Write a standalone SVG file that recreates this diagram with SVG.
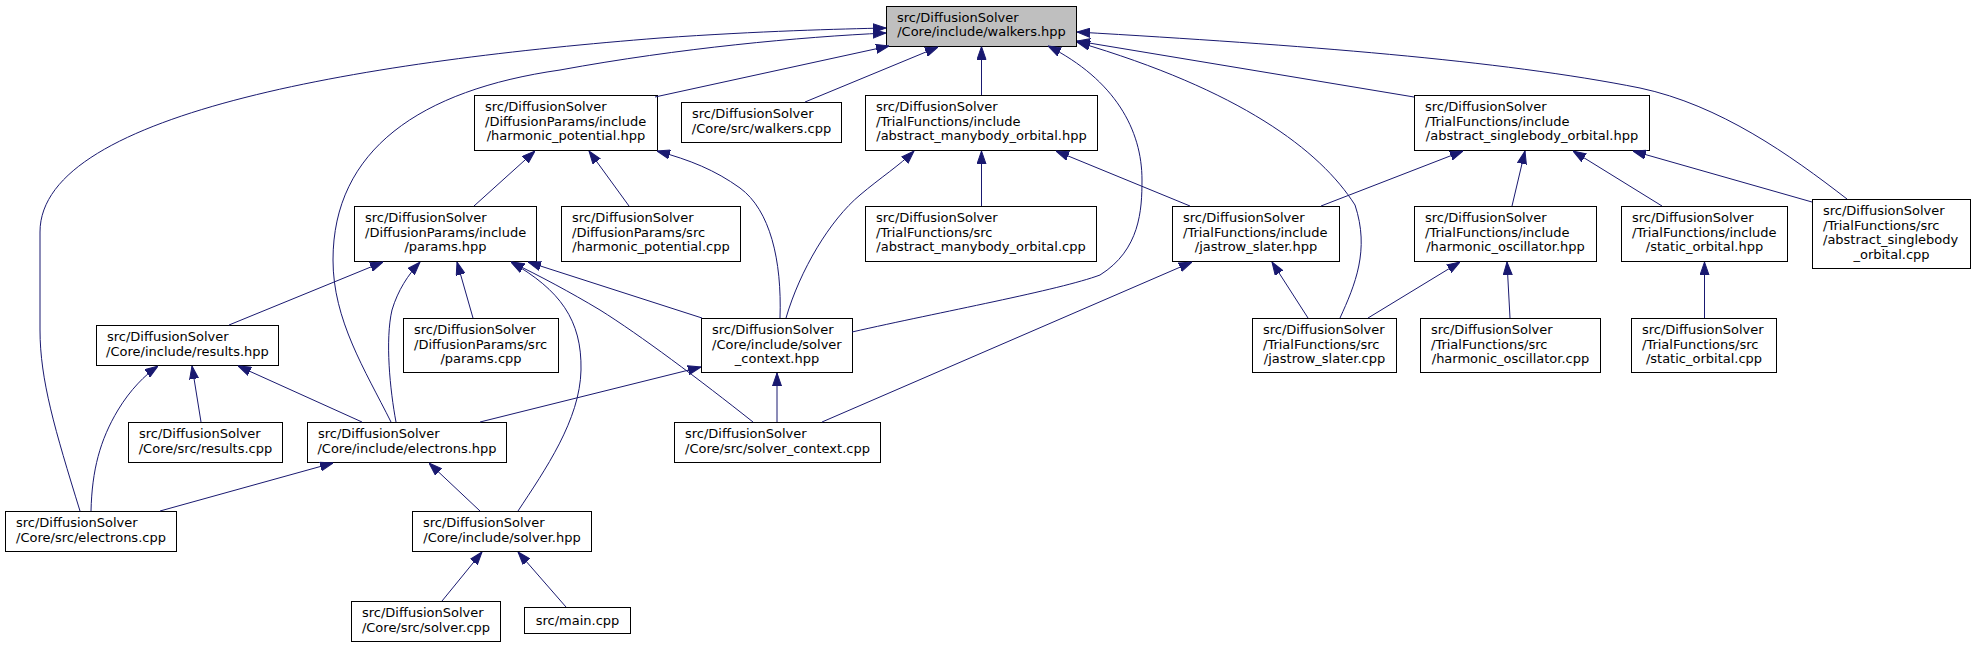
<svg xmlns="http://www.w3.org/2000/svg" width="1975" height="647" viewBox="0 0 1975 647">
<style>
  .node rect { fill: #ffffff; stroke: #000000; stroke-width: 1; }
  .root rect { fill: #bfbfbf; }
  .node text { font-family: "DejaVu Sans", "Liberation Sans", sans-serif; font-size: 13px; fill: #000000; }
  .node text.c { text-anchor: middle; }
  .edges path { fill: none; stroke: #191970; stroke-width: 1; marker-end: url(#arr); }
</style>
<defs>
  <marker id="arr" markerUnits="userSpaceOnUse" viewBox="0 0 13 10" refX="13" refY="5" markerWidth="13" markerHeight="10" orient="auto">
    <path d="M0,0.5 L13,5 L0,9.5 z" fill="#191970" stroke="#191970" stroke-width="1"/>
  </marker>
</defs>
<rect width="1975" height="647" fill="#ffffff"/>

<g id="walkers_hpp" class="node root"><rect x="886.5" y="6.5" width="190" height="40"/>
<text x="897" y="21.5">src/DiffusionSolver</text><text class="c" x="981.5" y="36.2">/Core/include/walkers.hpp</text></g>

<g id="harmonic_potential_hpp" class="node"><rect x="474.5" y="95.5" width="183" height="55"/>
<text x="485" y="111">src/DiffusionSolver</text><text x="485" y="125.7">/DiffusionParams/include</text><text class="c" x="566" y="140.4">/harmonic_potential.hpp</text></g>

<g id="walkers_cpp" class="node"><rect x="681.5" y="102.5" width="160" height="40"/>
<text x="692" y="117.8">src/DiffusionSolver</text><text class="c" x="761.5" y="132.5">/Core/src/walkers.cpp</text></g>

<g id="abstract_manybody_orbital_hpp" class="node"><rect x="865.5" y="95.5" width="232" height="55"/>
<text x="876" y="111">src/DiffusionSolver</text><text x="876" y="125.7">/TrialFunctions/include</text><text class="c" x="981.5" y="140.4">/abstract_manybody_orbital.hpp</text></g>

<g id="abstract_singlebody_orbital_hpp" class="node"><rect x="1414.5" y="95.5" width="235" height="55"/>
<text x="1425" y="111">src/DiffusionSolver</text><text x="1425" y="125.7">/TrialFunctions/include</text><text class="c" x="1532" y="140.4">/abstract_singlebody_orbital.hpp</text></g>

<g id="params_hpp" class="node"><rect x="354.5" y="206.5" width="182" height="55"/>
<text x="365" y="222">src/DiffusionSolver</text><text x="365" y="236.7">/DiffusionParams/include</text><text class="c" x="445.5" y="251.4">/params.hpp</text></g>

<g id="harmonic_potential_cpp" class="node"><rect x="561.5" y="206.5" width="179" height="55"/>
<text x="572" y="222">src/DiffusionSolver</text><text x="572" y="236.7">/DiffusionParams/src</text><text class="c" x="651" y="251.4">/harmonic_potential.cpp</text></g>

<g id="abstract_manybody_orbital_cpp" class="node"><rect x="865.5" y="206.5" width="231" height="55"/>
<text x="876" y="222">src/DiffusionSolver</text><text x="876" y="236.7">/TrialFunctions/src</text><text class="c" x="981" y="251.4">/abstract_manybody_orbital.cpp</text></g>

<g id="jastrow_slater_hpp" class="node"><rect x="1172.5" y="206.5" width="167" height="55"/>
<text x="1183" y="222">src/DiffusionSolver</text><text x="1183" y="236.7">/TrialFunctions/include</text><text class="c" x="1256" y="251.4">/jastrow_slater.hpp</text></g>

<g id="harmonic_oscillator_hpp" class="node"><rect x="1414.5" y="206.5" width="182" height="55"/>
<text x="1425" y="222">src/DiffusionSolver</text><text x="1425" y="236.7">/TrialFunctions/include</text><text class="c" x="1505.5" y="251.4">/harmonic_oscillator.hpp</text></g>

<g id="static_orbital_hpp" class="node"><rect x="1621.5" y="206.5" width="166" height="55"/>
<text x="1632" y="222">src/DiffusionSolver</text><text x="1632" y="236.7">/TrialFunctions/include</text><text class="c" x="1704.5" y="251.4">/static_orbital.hpp</text></g>

<g id="abstract_singlebody_orbital_cpp" class="node"><rect x="1812.5" y="199.5" width="158" height="69"/>
<text x="1823" y="215">src/DiffusionSolver</text><text x="1823" y="229.7">/TrialFunctions/src</text><text x="1823" y="244.4">/abstract_singlebody</text><text class="c" x="1891.5" y="259">_orbital.cpp</text></g>

<g id="results_hpp" class="node"><rect x="96.5" y="325.5" width="182" height="40"/>
<text x="107" y="340.8">src/DiffusionSolver</text><text class="c" x="187.5" y="355.5">/Core/include/results.hpp</text></g>

<g id="params_cpp" class="node"><rect x="403.5" y="318.5" width="155" height="54"/>
<text x="414" y="334">src/DiffusionSolver</text><text x="414" y="348.7">/DiffusionParams/src</text><text class="c" x="481" y="363.4">/params.cpp</text></g>

<g id="solver_context_hpp" class="node"><rect x="701.5" y="318.5" width="151" height="54"/>
<text x="712" y="334">src/DiffusionSolver</text><text x="712" y="348.7">/Core/include/solver</text><text class="c" x="777" y="363.4">_context.hpp</text></g>

<g id="jastrow_slater_cpp" class="node"><rect x="1252.5" y="318.5" width="144" height="54"/>
<text x="1263" y="334">src/DiffusionSolver</text><text x="1263" y="348.7">/TrialFunctions/src</text><text class="c" x="1324.5" y="363.4">/jastrow_slater.cpp</text></g>

<g id="harmonic_oscillator_cpp" class="node"><rect x="1420.5" y="318.5" width="180" height="54"/>
<text x="1431" y="334">src/DiffusionSolver</text><text x="1431" y="348.7">/TrialFunctions/src</text><text class="c" x="1510.5" y="363.4">/harmonic_oscillator.cpp</text></g>

<g id="static_orbital_cpp" class="node"><rect x="1631.5" y="318.5" width="145" height="54"/>
<text x="1642" y="334">src/DiffusionSolver</text><text x="1642" y="348.7">/TrialFunctions/src</text><text class="c" x="1704" y="363.4">/static_orbital.cpp</text></g>

<g id="results_cpp" class="node"><rect x="128.5" y="422.5" width="154" height="40"/>
<text x="139" y="437.8">src/DiffusionSolver</text><text class="c" x="205.5" y="452.5">/Core/src/results.cpp</text></g>

<g id="electrons_hpp" class="node"><rect x="307.5" y="422.5" width="199" height="40"/>
<text x="318" y="437.8">src/DiffusionSolver</text><text class="c" x="407" y="452.5">/Core/include/electrons.hpp</text></g>

<g id="solver_context_cpp" class="node"><rect x="674.5" y="422.5" width="206" height="40"/>
<text x="685" y="437.8">src/DiffusionSolver</text><text class="c" x="777.5" y="452.5">/Core/src/solver_context.cpp</text></g>

<g id="electrons_cpp" class="node"><rect x="5.5" y="511.5" width="171" height="40"/>
<text x="16" y="526.8">src/DiffusionSolver</text><text class="c" x="91" y="541.5">/Core/src/electrons.cpp</text></g>

<g id="solver_hpp" class="node"><rect x="412.5" y="511.5" width="179" height="40"/>
<text x="423" y="526.8">src/DiffusionSolver</text><text class="c" x="502" y="541.5">/Core/include/solver.hpp</text></g>

<g id="solver_cpp" class="node"><rect x="351.5" y="601.5" width="149" height="40"/>
<text x="362" y="616.8">src/DiffusionSolver</text><text class="c" x="426" y="631.5">/Core/src/solver.cpp</text></g>

<g id="main_cpp" class="node"><rect x="524.5" y="607.5" width="106" height="26"/>
<text class="c" x="577.5" y="624.5">src/main.cpp</text></g>

<g id="connectors" class="edges">
  <!-- into walkers.hpp -->
  <path d="M80,511 C55,430 40,380 40,330 L40,232 C40,110 380,60 660,38 C760,31 840,29 886,28"/>
  <path d="M391,422 C365,370 333,320 333,260 C333,150 420,90 560,70 C680,48 800,37 886,33"/>
  <path d="M655,97 L889,46"/>
  <path d="M805,102 L938,47"/>
  <path d="M981.5,95 L981.5,46.5"/>
  <path d="M852,332 C940,312 1060,290 1100,275 C1140,250 1142,210 1142,180 C1142,130 1115,80 1048,46"/>
  <path d="M1340,318 C1355,285 1370,250 1355,205 C1320,150 1240,90 1077,42"/>
  <path d="M1414,97 L1077,41"/>
  <path d="M1847,199 C1790,155 1720,105 1640,88 C1500,60 1300,45 1077,32"/>
  <!-- into harmonic_potential.hpp -->
  <path d="M474,206 L535,151"/>
  <path d="M629,206 L589,151"/>
  <path d="M780,318 C782,260 770,210 740,188 C715,170 690,160 657,151"/>
  <!-- into abstract_manybody_orbital.hpp -->
  <path d="M981.5,206 L981.5,151"/>
  <path d="M786,318 C800,270 830,220 860,195 C880,178 900,165 914,151"/>
  <path d="M1190,206 L1056,151"/>
  <!-- into abstract_singlebody_orbital.hpp -->
  <path d="M1321,206 L1463,151"/>
  <path d="M1512,206 L1525,151"/>
  <path d="M1662,206 L1573,151"/>
  <path d="M1812,202 L1633,151"/>
  <!-- into params.hpp -->
  <path d="M229,325 L383,262"/>
  <path d="M396,422 C390,390 385,340 392,310 C398,290 408,275 420,262"/>
  <path d="M473,318 L457,262"/>
  <path d="M518,511 C545,470 580,420 581,370 C582,320 560,290 511,262"/>
  <path d="M753,422 C700,380 640,335 600,310 C570,292 540,276 511,262"/>
  <path d="M702,318 L528,262"/>
  <!-- into jastrow_slater.hpp -->
  <path d="M822,422 L1192,262"/>
  <path d="M1308,318 L1272,262"/>
  <!-- into harmonic_oscillator.hpp -->
  <path d="M1368,318 L1460,262"/>
  <path d="M1510,318 L1507,262"/>
  <!-- into static_orbital.hpp -->
  <path d="M1704.5,318 L1704.5,262"/>
  <!-- into solver_context.hpp -->
  <path d="M777,422 L777,373"/>
  <path d="M480,422 L701,367"/>
  <!-- into results.hpp -->
  <path d="M91,511 C92,470 100,440 118,410 C130,390 145,375 158,366"/>
  <path d="M201,422 L192,366"/>
  <path d="M362,422 L238,366"/>
  <!-- into electrons.hpp -->
  <path d="M160,511 L333,463"/>
  <path d="M480,511 L429,463"/>
  <!-- into solver.hpp -->
  <path d="M442,601 L482,552"/>
  <path d="M566,607 L518,552"/>
</g>
</svg>
